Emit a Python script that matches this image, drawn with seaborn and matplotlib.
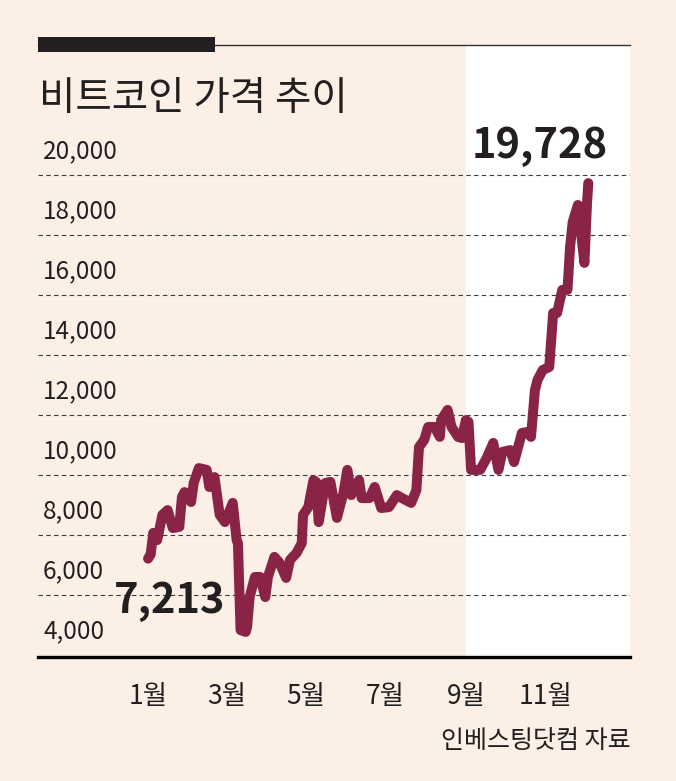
import matplotlib
matplotlib.use("Agg")
import matplotlib.pyplot as plt
import matplotlib.dates as mdates
from matplotlib.patches import Rectangle
import pandas as pd
import seaborn as sns

# ---------------- data ----------------
dates = [
    "2020-01-01", "2020-01-03", "2020-01-05", "2020-01-08", "2020-01-12", "2020-01-16",
    "2020-01-20", "2020-01-25", "2020-01-27", "2020-01-29", "2020-02-03", "2020-02-05",
    "2020-02-09", "2020-02-15", "2020-02-17", "2020-02-21", "2020-02-25", "2020-02-29",
    "2020-03-06", "2020-03-09", "2020-03-10", "2020-03-12", "2020-03-16", "2020-03-17",
    "2020-03-19", "2020-03-23", "2020-03-27", "2020-03-31", "2020-04-02", "2020-04-07",
    "2020-04-11", "2020-04-16", "2020-04-19", "2020-04-24", "2020-04-28", "2020-04-29",
    "2020-05-03", "2020-05-07", "2020-05-09", "2020-05-11", "2020-05-16", "2020-05-20",
    "2020-05-25", "2020-05-28", "2020-05-30", "2020-06-02", "2020-06-05", "2020-06-11",
    "2020-06-13", "2020-06-19", "2020-06-23", "2020-06-28", "2020-07-04", "2020-07-10",
    "2020-07-14", "2020-07-21", "2020-07-25", "2020-07-27", "2020-07-31", "2020-08-03",
    "2020-08-08", "2020-08-12", "2020-08-13", "2020-08-18", "2020-08-21", "2020-08-26",
    "2020-08-29", "2020-09-01", "2020-09-03", "2020-09-05", "2020-09-12", "2020-09-17",
    "2020-09-22", "2020-09-26", "2020-09-29", "2020-10-05", "2020-10-08", "2020-10-14",
    "2020-10-18", "2020-10-21", "2020-10-24", "2020-10-26", "2020-10-30", "2020-11-04",
    "2020-11-07", "2020-11-10", "2020-11-14", "2020-11-18", "2020-11-20", "2020-11-22",
    "2020-11-26", "2020-12-01", "2020-12-03", "2020-12-04",
]
prices = [
    7213, 7350, 8070, 7830, 8670, 8830,
    8230, 8270, 9270, 9430, 9100, 9730,
    10230, 10170, 9600, 9930, 8670, 8430,
    9070, 7830, 7730, 4830, 4770, 4930,
    5930, 6600, 6600, 5930, 6600, 7270,
    7070, 6570, 7170, 7400, 7730, 8670,
    8930, 9830, 9770, 8430, 9730, 9770,
    8570, 9070, 9400, 10170, 9330, 9830,
    9230, 9230, 9600, 8900, 8930, 9330,
    9230, 9070, 9500, 10930, 11170, 11600,
    11600, 11270, 11830, 12170, 11600, 11270,
    11230, 11830, 11770, 10170, 10170, 10570,
    11070, 10170, 10770, 10830, 10430, 11400,
    11430, 11270, 12830, 13170, 13500, 13600,
    15400, 15400, 16170, 16170, 17600, 18430,
    19000, 17070, 19070, 19728,
]
y_ticks = [4000, 6000, 8000, 10000, 12000, 14000, 16000, 18000, 20000]
x_tick_dates = ["2020-01-01", "2020-03-01", "2020-05-01", "2020-07-01", "2020-09-01", "2020-11-01"]
x_tick_labels = ["1월", "3월", "5월", "7월", "9월", "11월"]
title = "비트코인 가격 추이"
source = "인베스팅닷컴 자료"
highlight_start = "2020-09-01"

# ---------------- style ----------------
BG = "#fcefe6"
LINE = "#8a2447"
DARK = "#231f20"

sns.set_style("white")
plt.rcParams["font.family"] = ["Noto Sans CJK KR", "DejaVu Sans"]

W, H = 676, 781
fig = plt.figure(figsize=(W / 100, H / 100), dpi=100, facecolor=BG)

def fx(px):
    return px / W

def fy(py):
    return 1 - py / H

ax_l, ax_r, ax_t, ax_b = 38, 630, 45, 657
ax = fig.add_axes([fx(ax_l), fy(ax_b), fx(ax_r - ax_l), (ax_b - ax_t) / H])
ax.set_facecolor(BG)

df = pd.DataFrame({"date": pd.to_datetime(dates), "price": prices})

start = pd.Timestamp("2020-01-01")
x_left = mdates.date2num(start - pd.Timedelta(days=84.5))
x_right = mdates.date2num(start + pd.Timedelta(days=370))
ax.set_xlim(x_left, x_right)
ax.set_ylim(3933, 24333)

# highlighted (white) period
ax.axvspan(mdates.date2num(pd.Timestamp(highlight_start)), x_right,
           color="white", zorder=0, lw=0)

# dashed gridlines + labels above them
for v in y_ticks:
    if v > y_ticks[0]:
        ax.axhline(v, color="#3a3a3a", lw=0.8, ls=(0, (4, 3)), zorder=1)
    ax.annotate(f"{v:,}", xy=(0, v), xycoords=("axes fraction", "data"),
                xytext=(5, 11), textcoords="offset pixels",
                ha="left", va="bottom", fontsize=17.5, color=DARK)

sns.lineplot(data=df, x="date", y="price", ax=ax, color=LINE, linewidth=7.2,
             estimator=None, sort=False, zorder=3,
             solid_capstyle="round", solid_joinstyle="round")

# spines
for s in ["left", "right"]:
    ax.spines[s].set_visible(False)
ax.spines["top"].set_color("#333333")
ax.spines["top"].set_linewidth(1.0)
ax.spines["bottom"].set_color("black")
ax.spines["bottom"].set_linewidth(2.4)

ax.set_yticks([])
ax.set_xticks([mdates.date2num(pd.Timestamp(d)) for d in x_tick_dates])
ax.set_xticklabels(x_tick_labels, fontsize=19, color=DARK)
ax.tick_params(axis="x", direction="out", length=9.5, width=2.2, color="black", pad=9)
ax.set_xlabel("")
ax.set_ylabel("")

# start / end labels
ax.annotate(f"{prices[0]:,}", xy=(df["date"].iloc[0], prices[0]),
            xytext=(22, -42), textcoords="offset pixels",
            ha="center", va="center", fontsize=30, fontweight="bold", color=DARK, zorder=4)
ax.annotate(f"{prices[-1]:,}", xy=(df["date"].iloc[-1], prices[-1]),
            xytext=(-49, 37), textcoords="offset pixels",
            ha="center", va="center", fontsize=30, fontweight="bold", color=DARK, zorder=4)

# header bar and title
fig.add_artist(Rectangle((fx(38), fy(52)), fx(215 - 38), 15 / H,
                         transform=fig.transFigure, color=DARK, lw=0))
fig.text(fx(39), fy(99), title, ha="left", va="center", fontsize=28.5,
         fontweight="medium", color=DARK)

# source
fig.text(fx(631), fy(741), source, ha="right", va="center", fontsize=18, color=DARK)

fig.savefig("out.png", dpi=100, facecolor=BG)
